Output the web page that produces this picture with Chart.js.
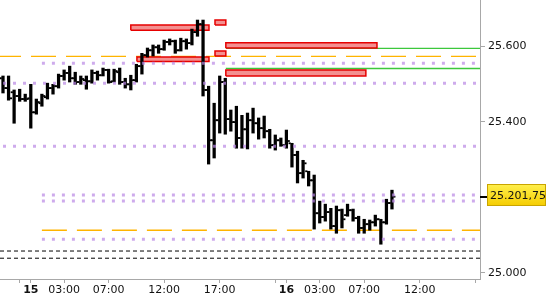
<!DOCTYPE html>
<html>
<head>
<meta charset="utf-8">
<script src="https://cdn.jsdelivr.net/npm/chart.js@4.4.1/dist/chart.umd.min.js"></script>
<style>
  body { margin: 0; background: #fff; }
  #wrap { width: 550px; height: 300px; }
</style>
</head>
<body>
<div id="wrap"><canvas id="chart" width="550" height="300"></canvas></div>
<script>
// 30 minute OHLC bars, x = bar number from the left
const barOpen = [
  25515, 25489, 25478, 25468, 25460, 25462, 25425, 25449, 25465, 25489,
  25494, 25521, 25529, 25515, 25505, 25510, 25507, 25529, 25523, 25537,
  25507, 25531, 25505, 25499, 25510, 25547, 25576, 25589, 25597, 25592,
  25611, 25613, 25589, 25613, 25608, 25637, 25658, 25484, 25351, 25404,
  25505, 25407, 25399, 25357, 25380, 25404, 25396, 25383, 25375, 25338,
  25351, 25338, 25343, 25312, 25264, 25269, 25245, 25158, 25148, 25161,
  25124, 25166, 25153, 25166, 25145, 25119, 25129, 25134, 25142, 25134,
  25185
];
const barHigh = [
  25521, 25521, 25484, 25486, 25473, 25499, 25460, 25473, 25502, 25499,
  25526, 25537, 25547, 25531, 25521, 25521, 25537, 25534, 25542, 25539,
  25539, 25542, 25515, 25523, 25552, 25581, 25595, 25603, 25603, 25616,
  25619, 25616, 25621, 25619, 25645, 25669, 25669, 25494, 25449, 25521,
  25515, 25431, 25441, 25417, 25423, 25436, 25410, 25415, 25380, 25365,
  25357, 25378, 25343, 25322, 25298, 25269, 25259, 25190, 25182, 25171,
  25177, 25169, 25182, 25169, 25150, 25142, 25140, 25153, 25142, 25195,
  25219
];
const barLow = [
  25476, 25457, 25396, 25454, 25454, 25383, 25420, 25441, 25460, 25473,
  25489, 25510, 25505, 25499, 25499, 25486, 25502, 25510, 25521, 25502,
  25505, 25499, 25489, 25484, 25505, 25526, 25571, 25574, 25581, 25589,
  25603, 25581, 25587, 25592, 25603, 25626, 25468, 25288, 25304, 25370,
  25367, 25375, 25330, 25330, 25328, 25370, 25354, 25357, 25330, 25325,
  25335, 25330, 25280, 25238, 25251, 25230, 25116, 25132, 25137, 25116,
  25105, 25119, 25150, 25137, 25105, 25105, 25113, 25124, 25076, 25129,
  25169
];
const barClose = [
  25489, 25462, 25468, 25460, 25460, 25425, 25452, 25468, 25489, 25494,
  25521, 25529, 25515, 25505, 25513, 25507, 25529, 25523, 25537, 25505,
  25534, 25505, 25499, 25510, 25547, 25576, 25589, 25597, 25592, 25611,
  25613, 25589, 25613, 25608, 25637, 25658, 25484, 25351, 25404, 25505,
  25407, 25399, 25357, 25380, 25404, 25396, 25383, 25375, 25338, 25351,
  25338, 25349, 25312, 25264, 25290, 25245, 25158, 25148, 25161, 25124,
  25166, 25142, 25166, 25145, 25119, 25129, 25134, 25142, 25134, 25185,
  25201.75
];

const xTickSlots  = [3, 5, 11, 19, 29, 39, 49, 51, 57, 65, 75, 85];
const xTickLabels = ['', '15', '03:00', '07:00', '12:00', '17:00', '', '16', '03:00', '07:00', '12:00', ''];
const yTicks = [25000, 25200, 25400, 25600];

const xMin = -0.54, xMax = 85.84;

// horizontal levels
const orangeLevels = [25573, 25113];
const orangeStart  = [xMin, 7];
const dotLevels = [25555, 25502, 25335, 25206, 25190, 25089];
const dotStart  = [7, xMin, xMin, 7, 7, 7];
const greenLevels = [25594, 25541];
const greenStart  = [40.1, 40.1];
const blackLevels = [25058, 25039];

// red zones
const zoneStart = [23, 24.1, 38.15, 38.15, 40.1, 40.1];
const zoneEnd   = [37.07, 37.07, 40.1, 40.1, 67.3, 65.3];
const zoneHigh  = [25656, 25571, 25669, 25587, 25609, 25537];
const zoneLow   = [25642, 25559, 25656, 25574, 25595, 25521];

function fmt(v, dec) {
  const parts = v.toFixed(dec).split('.');
  const i = parts[0].replace(/\B(?=(\d{3})+(?!\d))/g, '.');
  return parts[1] ? i + ',' + parts[1] : i;
}

function hLine(value, from, style, offset) {
  return Object.assign({
    type: 'line',
    data: [{ x: from, y: value }, { x: xMax, y: value }],
    pointRadius: 0,
    borderWidth: 1,
    borderDashOffset: offset || 0,
    fill: false,
    tension: 0
  }, style);
}

const datasets = [];

zoneStart.forEach((s, i) => {
  const e = zoneEnd[i];
  datasets.push({
    type: 'line',
    data: [
      { x: s, y: zoneLow[i] }, { x: e, y: zoneLow[i] },
      { x: e, y: zoneHigh[i] }, { x: s, y: zoneHigh[i] }, { x: s, y: zoneLow[i] }
    ],
    fill: 'shape',
    backgroundColor: '#f39090',
    borderColor: '#e60000',
    borderWidth: 1.5,
    pointRadius: 0,
    tension: 0,
    order: 3
  });
});

orangeLevels.forEach((v, i) => {
  datasets.push(hLine(v, orangeStart[i], { borderColor: '#ffb400', borderWidth: 1.4, borderDash: [25, 10], order: 4 }, i === 0 ? 4 : 0));
});
greenLevels.forEach((v, i) => {
  datasets.push(hLine(v, greenStart[i], { borderColor: '#3cc83c', borderWidth: 1.4, order: 4 }));
});
blackLevels.forEach(v => {
  datasets.push(hLine(v, xMin, { borderColor: '#000', borderDash: [4, 3], order: 4 }));
});
dotLevels.forEach((v, i) => {
  datasets.push(hLine(v, dotStart[i], {
    borderColor: 'rgba(185,135,228,0.7)', borderWidth: 3, borderDash: [3, 7],
    borderCapStyle: 'butt', order: 0
  }, dotStart[i] === xMin ? 7 : 0));
});

datasets.push({
  type: 'bar',
  data: barHigh.map((h, i) => ({ x: i, y: [barLow[i], h] })),
  backgroundColor: '#000',
  barThickness: 2.6,
  order: 1
});
datasets.push({
  type: 'line',
  showLine: false,
  data: barOpen.map((o, i) => ({ x: i - 0.42, y: o })),
  pointStyle: 'line',
  pointRadius: 1.1,
  pointBorderWidth: 1.8,
  pointBorderColor: '#000',
  order: 1
});
datasets.push({
  type: 'line',
  showLine: false,
  data: barClose.map((c, i) => ({ x: i + 0.42, y: c })),
  pointStyle: 'line',
  pointRadius: 1.1,
  pointBorderWidth: 1.8,
  pointBorderColor: '#000',
  order: 1
});

const priceTag = {
  id: 'priceTag',
  afterDraw(chart) {
    const { ctx, chartArea, scales } = chart;
    const last = barClose[barClose.length - 1];
    const y = Math.round(scales.y.getPixelForValue(last));
    const x0 = chartArea.right + 7;
    ctx.save();
    ctx.strokeStyle = '#000';
    ctx.lineWidth = 2;
    ctx.beginPath();
    ctx.moveTo(chartArea.right, y);
    ctx.lineTo(x0, y);
    ctx.stroke();
    const top = y - 13, h = 22, w = 59;
    const g = ctx.createLinearGradient(0, top, 0, top + h);
    g.addColorStop(0, '#fff04d');
    g.addColorStop(1, '#f5cc00');
    ctx.fillStyle = g;
    ctx.fillRect(x0, top, w, h);
    ctx.strokeStyle = '#c9a400';
    ctx.lineWidth = 1;
    ctx.strokeRect(x0 + 0.5, top + 0.5, w - 1, h - 1);
    ctx.fillStyle = '#111';
    ctx.font = '11px "DejaVu Sans"';
    ctx.textBaseline = 'middle';
    ctx.fillText(fmt(last, 2), x0 + 3, top + h / 2 + 1);
    ctx.restore();
  }
};

function noPad(s) {
  s.paddingTop = 0; s.paddingBottom = 0; s.paddingLeft = 0; s.paddingRight = 0;
}

Chart.defaults.font.family = '"DejaVu Sans"';
Chart.defaults.font.size = 11;
Chart.defaults.color = '#111';

new Chart(document.getElementById('chart'), {
  type: 'bar',
  data: { datasets },
  options: {
    responsive: false,
    animation: false,
    layout: { padding: 0, autoPadding: false },
    plugins: { legend: { display: false }, tooltip: { enabled: false } },
    scales: {
      x: {
        type: 'linear',
        min: xMin,
        max: xMax,
        offset: false,
        afterBuildTicks: s => { s.ticks = xTickSlots.map(v => ({ value: v })); },
        afterFit: s => { s.height = 21; noPad(s); },
        border: { color: '#a8a8a8' },
        grid: { drawOnChartArea: false, offset: false, color: '#a8a8a8', tickLength: 4 },
        ticks: {
          autoSkip: false,
          maxRotation: 0,
          padding: 1,
          callback: (v, i) => xTickLabels[i],
          font: c => ({ family: '"DejaVu Sans"', size: 11, weight: /^\d\d$/.test(xTickLabels[c.index] || '') ? 'bold' : 'normal' })
        }
      },
      y: {
        position: 'right',
        min: 24984,
        max: 25722,
        beginAtZero: false,
        afterBuildTicks: s => { s.ticks = yTicks.map(v => ({ value: v })); },
        afterFit: s => { s.width = 70; noPad(s); },
        border: { color: '#a8a8a8' },
        grid: { drawOnChartArea: false, color: '#a8a8a8', tickLength: 5 },
        ticks: { padding: 3, callback: v => fmt(v, 0) }
      }
    }
  },
  plugins: [priceTag]
});
</script>
</body>
</html>
